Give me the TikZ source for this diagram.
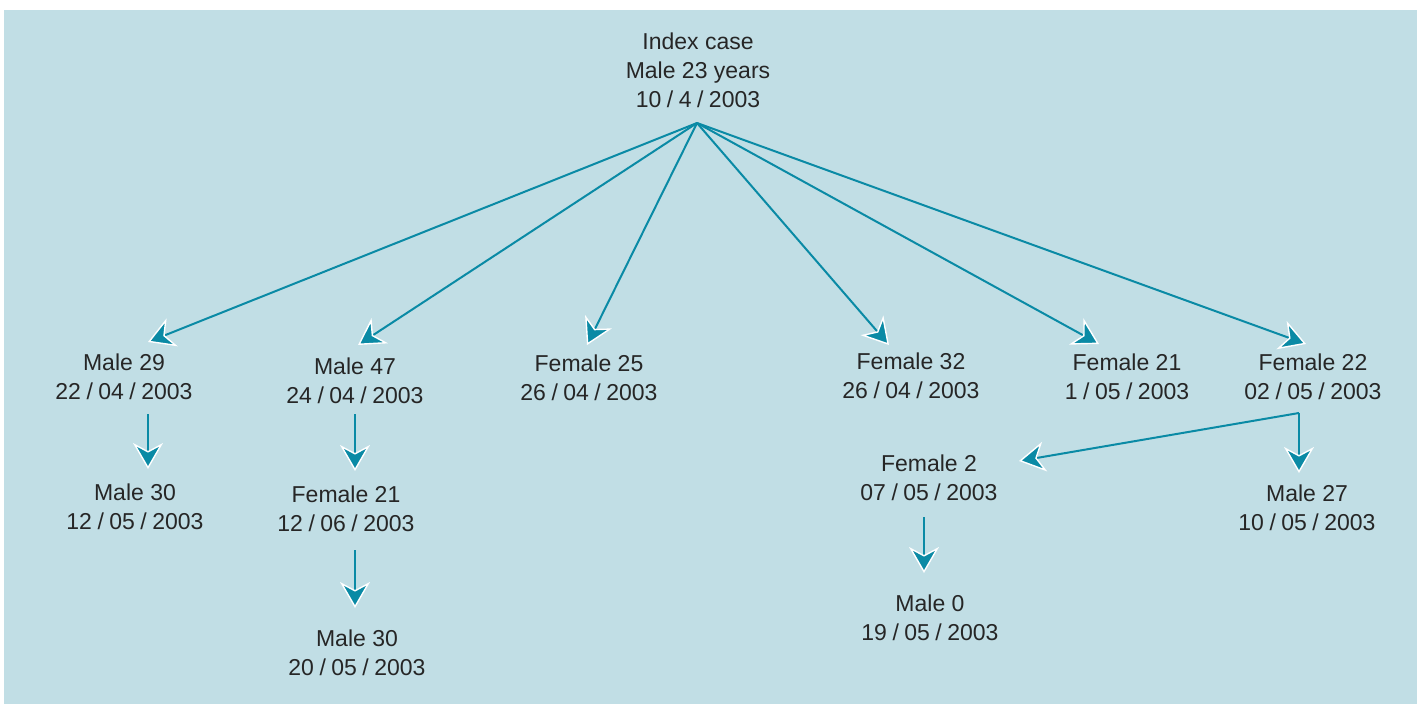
\documentclass[tikz,border=0pt]{standalone}
\usepackage{fontspec}
\setmainfont{Liberation Sans}
\usetikzlibrary{arrows.meta}
\definecolor{bg}{HTML}{C1DEE5}
\definecolor{arr}{HTML}{0A8AA5}
\definecolor{txt}{HTML}{262626}
\newcommand\ds{\kern5.5pt/\kern5.5pt}
\begin{document}
\begin{tikzpicture}[x=1pt,y=-1pt,
  lbl/.style={align=center,font=\fontsize{23}{29}\selectfont,text=txt,inner sep=0pt},
  arrow/.style={draw=arr,line width=2pt,-{Stealth[length=26pt,width=30pt,inset=8pt,fill=arr,color=white,line width=1.4pt]}}]
\useasboundingbox (0,0) rectangle (1417,704);
\fill[bg] (4,10) rectangle (1417,704);

\node[lbl] (idx) at (698,70) {Index case\\Male 23 years\\10\ds 4\ds 2003};
\node[lbl] (m29) at (124,377) {Male 29\\22\ds 04\ds 2003};
\node[lbl] (m30a) at (135,507) {Male 30\\12\ds 05\ds 2003};
\node[lbl] (m47) at (355,381) {Male 47\\24\ds 04\ds 2003};
\node[lbl] (f21a) at (346,509) {Female 21\\12\ds 06\ds 2003};
\node[lbl] (m30b) at (357,653) {Male 30\\20\ds 05\ds 2003};
\node[lbl] (f25) at (589,378) {Female 25\\26\ds 04\ds 2003};
\node[lbl] (f32) at (911,376) {Female 32\\26\ds 04\ds 2003};
\node[lbl] (f21b) at (1127,377) {Female 21\\1\ds 05\ds 2003};
\node[lbl] (f22) at (1313,377) {Female 22\\02\ds 05\ds 2003};
\node[lbl] (f2) at (929,478) {Female 2\\07\ds 05\ds 2003};
\node[lbl] (m27) at (1307,508) {Male 27\\10\ds 05\ds 2003};
\node[lbl] (m0) at (930,618) {Male 0\\19\ds 05\ds 2003};

\coordinate (src) at (697,123);
\coordinate (t29) at (148,342);
\coordinate (t47) at (358,345);
\coordinate (t25) at (587,345);
\coordinate (t32) at (889,345);
\coordinate (t21b) at (1099,344);
\coordinate (t22) at (1306,344);
\draw[arrow] (src) -- (t29);
\draw[arrow] (src) -- (t47);
\draw[arrow] (src) -- (t25);
\draw[arrow] (src) -- (t32);
\draw[arrow] (src) -- (t21b);
\draw[arrow] (src) -- (t22);

\coordinate (s29) at (148,414);
\coordinate (e30a) at (148,469);
\draw[arrow] (s29) -- (e30a);
\coordinate (s47) at (355,414);
\coordinate (e21a) at (355,471);
\draw[arrow] (s47) -- (e21a);
\coordinate (s21a) at (355,550);
\coordinate (e30b) at (355,608);
\draw[arrow] (s21a) -- (e30b);
\coordinate (s2) at (924,517);
\coordinate (e0) at (924,573);
\draw[arrow] (s2) -- (e0);
\coordinate (s22) at (1299,413);
\coordinate (e2) at (1019,461);
\coordinate (e27) at (1299,473);
\draw[arrow] (s22) -- (e2);
\draw[arrow] (s22) -- (e27);
\end{tikzpicture}
\end{document}
